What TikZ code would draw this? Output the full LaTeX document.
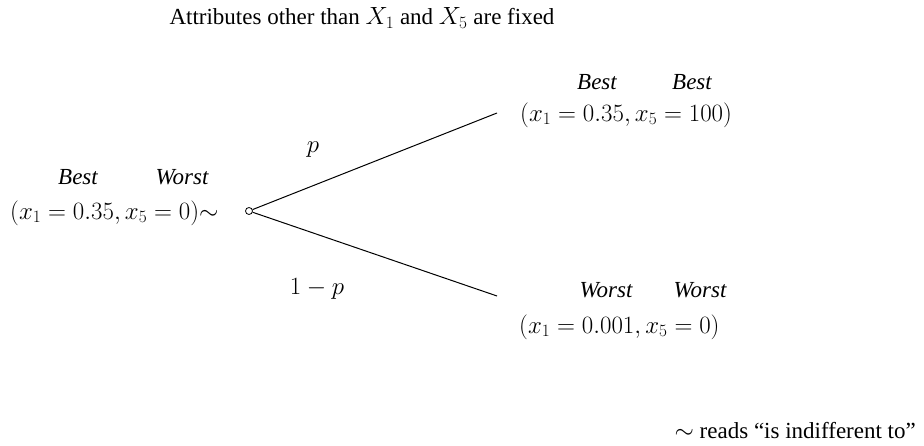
\documentclass[tikz,border=0pt]{standalone}
\usepackage{fontspec}
\setmainfont{Liberation Serif}
\begin{document}
\begin{tikzpicture}[x=1pt,y=-1pt,
  lbl/.style={font=\fontsize{23}{26}\selectfont\itshape, inner sep=0pt},
  mth/.style={font=\fontsize{26.5}{30}\selectfont, inner sep=0pt, anchor=west},
  txt/.style={font=\fontsize{23}{26}\selectfont, inner sep=0pt},
  br/.style={line width=1pt}]
\useasboundingbox (0,0) rectangle (924,446);
\node[txt] (title) at (362,18) {Attributes other than $X_1$ and $X_5$ are fixed};
\node[draw, circle, line width=0.8pt, minimum size=7pt, inner sep=0pt] (c) at (249,211) {};
\coordinate (u) at (497,113);
\coordinate (d) at (497,296);
\draw[br] (c) -- (u);
\draw[br] (c) -- (d);
\node[mth, anchor=center] (p) at (313,150) {$p$};
\node[mth, anchor=center] (q) at (317,289) {$1-p$};
\node[lbl] (lb) at (78,177) {Best};
\node[lbl] (lw) at (182,177) {Worst};
\node[mth] (lm) at (10,213) {$(x_1=0.35, x_5=0){\sim}$};
\node[lbl] (ub) at (597,82) {Best};
\node[lbl] (ub2) at (692,82) {Best};
\node[mth] (um) at (520,115) {$(x_1=0.35, x_5=100)$};
\node[lbl] (dw) at (606,290) {Worst};
\node[lbl] (dw2) at (700,290) {Worst};
\node[mth] (dm) at (519,327) {$(x_1=0.001, x_5=0)$};
\node[txt, anchor=east] (note) at (916,431) {$\sim$ reads “is indifferent to”};
\end{tikzpicture}
\end{document}
